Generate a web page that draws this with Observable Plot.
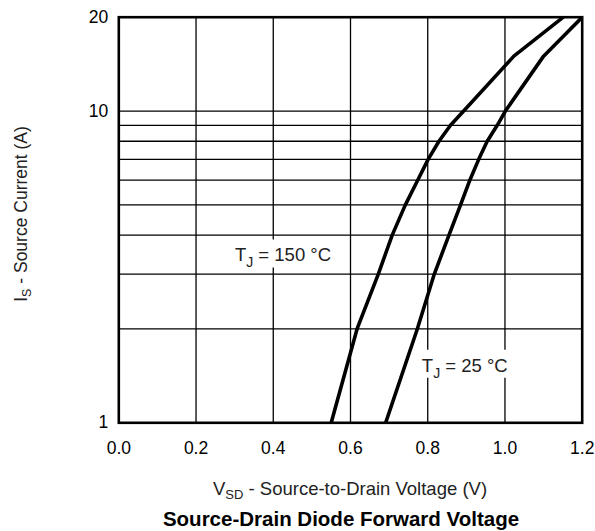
<!DOCTYPE html>
<html>
<head>
<meta charset="utf-8">
<script src="https://cdn.jsdelivr.net/npm/d3@7"></script>
<script src="https://cdn.jsdelivr.net/npm/@observablehq/plot@0.6"></script>
<style>
  html, body { margin: 0; padding: 0; background: #fff; }
</style>
</head>
<body>
<div id="chart"></div>
<script>
// Source current levels (A) shared by both curves
const currents = [1, 2, 3, 4, 5, 6, 7, 8, 9, 10, 15, 20];
// Forward voltage (V) at TJ = 150 °C
const vsd150 = [0.55, 0.617, 0.672, 0.708, 0.742, 0.774, 0.801, 0.829, 0.859, 0.893, 1.023, 1.151];
// Forward voltage (V) at TJ = 25 °C
const vsd25 = [0.691, 0.773, 0.817, 0.855, 0.885, 0.909, 0.932, 0.954, 0.980, 1.001, 1.10, 1.20];

const xTicks = [0, 0.2, 0.4, 0.6, 0.8, 1.0, 1.2];
const yTicks = [1, 10, 20];
const xGrid = [0.2, 0.4, 0.6, 0.8, 1.0];
const yGrid = [2, 3, 4, 5, 6, 7, 8, 9, 10];

const series = [
  {name: "150", v: vsd150},
  {name: "25", v: vsd25}
];
const rows = series.flatMap(s => s.v.map((v, i) => ({series: s.name, v, i: currents[i]})));

// Annotation anchors (data coordinates: left edge / baseline)
const labels = [
  {main: "T", sub: "J", rest: " = 150 °C", x: 0.302, y: 3.28},
  {main: "T", sub: "J", rest: " = 25 °C", x: 0.786, y: 1.453}
];

const FONT = "'Liberation Sans', Arial, Helvetica, sans-serif";

const chart = Plot.plot({
  width: 595,
  height: 531,
  marginLeft: 118.3,
  marginRight: 13.3,
  marginTop: 16.7,
  marginBottom: 108.7,
  style: {fontFamily: FONT, fontSize: "17.5px", color: "#000", background: "#fff"},
  x: {domain: [0, 1.2], ticks: xTicks, tickFormat: d3.format(".1f"), tickSize: 0, tickPadding: 19, label: null},
  y: {type: "log", domain: [1, 20], ticks: yTicks, tickFormat: d => String(d), tickSize: 0, tickPadding: 10.6, label: null},
  marks: [
    Plot.ruleX(xGrid, {stroke: "#000", strokeWidth: 1.3}),
    Plot.ruleY(yGrid, {stroke: "#000", strokeWidth: 1.3}),
    Plot.line(rows, {x: "v", y: "i", z: "series", stroke: "#000", strokeWidth: 3.6, strokeLinejoin: "round", clip: true}),
    Plot.frame({stroke: "#000", strokeWidth: 2.6})
  ]
});

document.getElementById("chart").appendChild(chart);

const svg = d3.select(chart);
const sx = chart.scale("x"), sy = chart.scale("y");

// Curve annotations with white boxes
labels.forEach(l => {
  const g = svg.append("g");
  const rect = g.append("rect").attr("fill", "#fff");
  const t = g.append("text")
    .attr("x", sx.apply(l.x)).attr("y", sy.apply(l.y))
    .attr("text-anchor", "start")
    .attr("font-family", FONT).attr("font-size", 18.5).attr("fill", "#222");
  t.append("tspan").text(l.main);
  t.append("tspan").attr("dy", 6).attr("font-size", 14).text(l.sub);
  t.append("tspan").attr("dy", -6).text(l.rest);
  const b = t.node().getBBox();
  const base = sy.apply(l.y);
  rect.attr("x", b.x - 3).attr("y", base - 22).attr("width", b.width + 6).attr("height", 28);
});

// Y-axis label (rotated, with subscript)
const yl = svg.append("text")
  .attr("transform", "translate(27,214) rotate(-90)")
  .attr("text-anchor", "middle")
  .attr("font-family", FONT).attr("font-size", 17.5).attr("fill", "#222");
yl.append("tspan").text("I");
yl.append("tspan").attr("dy", 4).attr("font-size", 12.5).text("S");
yl.append("tspan").attr("dy", -4).text(" - Source Current (A)");

// X-axis label
const xl = svg.append("text")
  .attr("x", 350).attr("y", 495)
  .attr("text-anchor", "middle")
  .attr("font-family", FONT).attr("font-size", 18.5).attr("fill", "#222");
xl.append("tspan").text("V");
xl.append("tspan").attr("dy", 4).attr("font-size", 13).text("SD");
xl.append("tspan").attr("dy", -4).text(" - Source-to-Drain Voltage (V)");

// Title
svg.append("text")
  .attr("x", 341).attr("y", 525.5)
  .attr("text-anchor", "middle")
  .attr("font-family", FONT).attr("font-size", 20.5).attr("font-weight", "bold").attr("fill", "#000")
  .text("Source-Drain Diode Forward Voltage");
</script>
</body>
</html>
